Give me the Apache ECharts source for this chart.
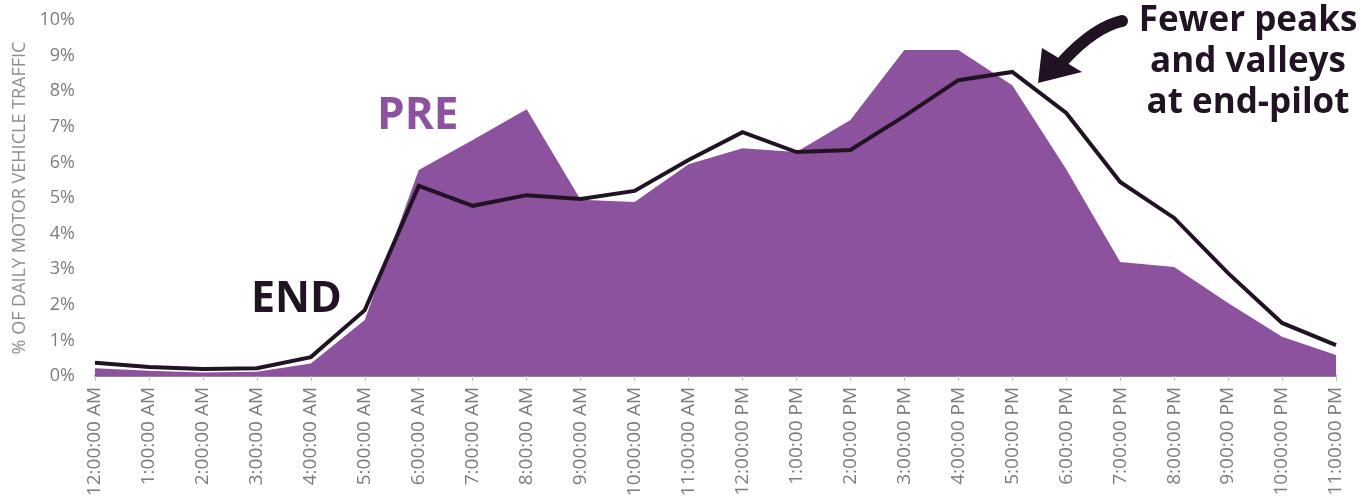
<!DOCTYPE html>
<html>
<head>
<meta charset="utf-8">
<title>Hourly motor vehicle traffic: pre vs end of pilot</title>
<script src="https://cdn.jsdelivr.net/npm/echarts@6/dist/echarts.min.js"></script>
<style>
  html, body { margin: 0; padding: 0; background: #fff; }
  #chart { width: 1364px; height: 503px; }
</style>
</head>
<body>
<div id="chart"></div>
<script>
// Hour-of-day categories
const hours = [
  '12:00:00 AM', '1:00:00 AM', '2:00:00 AM', '3:00:00 AM', '4:00:00 AM', '5:00:00 AM',
  '6:00:00 AM', '7:00:00 AM', '8:00:00 AM', '9:00:00 AM', '10:00:00 AM', '11:00:00 AM',
  '12:00:00 PM', '1:00:00 PM', '2:00:00 PM', '3:00:00 PM', '4:00:00 PM', '5:00:00 PM',
  '6:00:00 PM', '7:00:00 PM', '8:00:00 PM', '9:00:00 PM', '10:00:00 PM', '11:00:00 PM'
];

// Share of daily motor vehicle traffic (%) before the pilot
const preShare = [
  0.22, 0.15, 0.1, 0.12, 0.35, 1.57,
  5.79, 6.63, 7.49, 4.95, 4.89, 5.95,
  6.4, 6.29, 7.19, 9.16, 9.16, 8.17,
  5.81, 3.2, 3.06, 2.05, 1.1, 0.59
];

// Share of daily motor vehicle traffic (%) at the end of the pilot
const endShare = [
  0.37, 0.25, 0.2, 0.22, 0.53, 1.85,
  5.34, 4.78, 5.08, 4.97, 5.2, 6.07,
  6.85, 6.29, 6.35, 7.3, 8.31, 8.54,
  7.39, 5.45, 4.44, 2.89, 1.49, 0.87
];

// Y axis ticks (percent)
const yTicks = { min: 0, max: 10, step: 1 };

const PURPLE = '#8d529e';
const DARK = '#211324';
const GREY = '#7c7c7c';
const FONT = '"Open Sans", "Noto Sans", sans-serif';

const chart = echarts.init(document.getElementById('chart'), null, { renderer: 'canvas' });

chart.setOption({
  animation: false,
  backgroundColor: '#ffffff',
  grid: { left: 95, right: 28, top: 20, bottom: 127, containLabel: false },
  xAxis: {
    type: 'category',
    data: hours,
    boundaryGap: false,
    axisLine: { show: true, lineStyle: { color: '#8a8a8a', width: 2 } },
    axisTick: { show: true, alignWithLabel: true, length: 5, lineStyle: { color: '#bdbdbd', width: 1 } },
    axisLabel: {
      interval: 0,
      rotate: 90,
      margin: 11,
      color: GREY,
      fontFamily: FONT,
      fontSize: 19
    },
    splitLine: { show: false }
  },
  yAxis: {
    type: 'value',
    min: yTicks.min,
    max: yTicks.max,
    interval: yTicks.step,
    name: '% OF DAILY MOTOR VEHICLE TRAFFIC',
    nameLocation: 'middle',
    nameRotate: 90,
    nameGap: 64,
    nameTextStyle: { color: '#8f8f8f', fontFamily: FONT, fontSize: 18 },
    axisLine: { show: false },
    axisTick: { show: false },
    splitLine: { show: false },
    axisLabel: {
      color: GREY,
      fontFamily: FONT,
      fontSize: 18,
      margin: 20,
      formatter: '{value}%'
    }
  },
  series: [
    {
      name: 'PRE',
      type: 'line',
      data: preShare,
      symbol: 'none',
      lineStyle: { width: 0, color: PURPLE },
      areaStyle: { color: PURPLE, opacity: 1 },
      z: 2
    },
    {
      name: 'END',
      type: 'line',
      data: endShare,
      symbol: 'none',
      lineStyle: { width: 4, color: DARK, join: 'miter' },
      z: 3
    }
  ],
  graphic: [
    {
      type: 'text',
      left: 377,
      top: 94,
      style: { text: 'PRE', fill: PURPLE, font: 'bold 44px ' + FONT }
    },
    {
      type: 'text',
      left: 251,
      top: 278,
      style: { text: 'END', fill: DARK, font: 'bold 43px ' + FONT }
    },
    {
      type: 'text',
      z: 10,
      style: {
        x: 1248,
        y: 1,
        text: 'Fewer peaks\nand valleys\nat end-pilot',
        textAlign: 'center',
        fill: DARK,
        font: 'bold 35px ' + FONT,
        lineHeight: 41
      }
    },
    {
      type: 'bezierCurve',
      z: 10,
      shape: { x1: 1122, y1: 21, cpx1: 1095, cpy1: 27, x2: 1064, y2: 60 },
      style: { stroke: DARK, lineWidth: 12, fill: 'none', lineCap: 'round' }
    },
    {
      type: 'polygon',
      z: 10,
      shape: { points: [[1038, 83], [1042, 48], [1082, 72]] },
      style: { fill: DARK }
    }
  ]
});
</script>
</body>
</html>
